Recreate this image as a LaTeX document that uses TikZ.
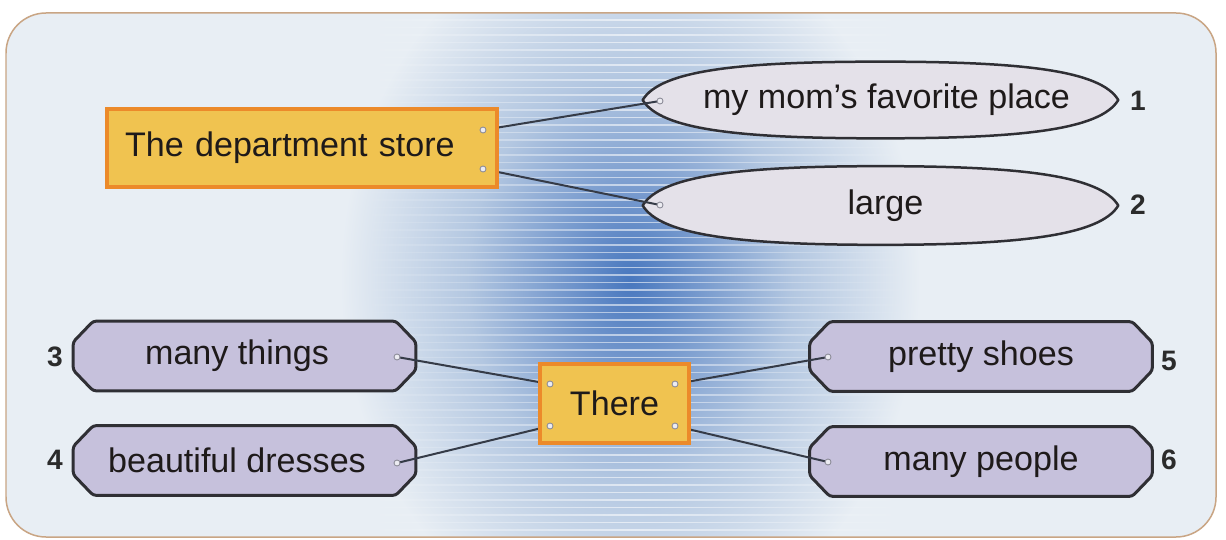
\documentclass[tikz,border=0pt]{standalone}
\usepackage{fontspec}
\setmainfont{Liberation Sans}
\usetikzlibrary{calc,fadings}
\definecolor{bgc}{HTML}{E8EEF4}
\definecolor{glowA}{HTML}{4877BE}
\definecolor{glowB}{HTML}{6F94CB}
\definecolor{glowC}{HTML}{B3C7E1}
\definecolor{framec}{HTML}{C9A584}
\definecolor{yellowF}{HTML}{F0C350}
\definecolor{orangeB}{HTML}{EC8A2A}
\definecolor{lensF}{HTML}{E4E1E9}
\definecolor{octF}{HTML}{C6C1DC}
\definecolor{darkL}{HTML}{2F2F34}
\definecolor{connc}{HTML}{353B47}
\definecolor{txt}{HTML}{1E1A1A}
\definecolor{numc}{HTML}{2B2B2B}
\definecolor{dotF}{HTML}{ECECF2}
\definecolor{dotD}{HTML}{8C8C98}
\pgfdeclarelayer{back}
\pgfdeclarelayer{shapes}
\pgfdeclarelayer{lines}
\pgfsetlayers{back,shapes,lines,main}
\pgfdeclareradialshading{glow}{\pgfpoint{0bp}{0bp}}{color(0bp)=(glowA); color(5bp)=(glowB); color(14bp)=(glowC); color(25bp)=(bgc); color(50bp)=(bgc)}
\tikzfading[name=lrfade, left color=transparent!100, right color=transparent!100, middle color=transparent!0]
\newcommand\lensshape[1]{%
  \path[lensline] (#1.west)
    .. controls ($(#1.west)+(18,-30)$) and ($(#1.north)+(-140,0)$) .. (#1.north)
    .. controls ($(#1.north)+(140,0)$) and ($(#1.east)+(-18,-30)$) .. (#1.east)
    .. controls ($(#1.east)+(-18,30)$) and ($(#1.south)+(140,0)$) .. (#1.south)
    .. controls ($(#1.south)+(-140,0)$) and ($(#1.west)+(18,30)$) .. (#1.west) -- cycle;}
\newcommand\octshape[1]{%
  \path[octline] ($(#1.north west)+(20,0)$) -- ($(#1.north east)+(-20,0)$)
    -- ($(#1.east)+(0,-14)$) -- ($(#1.east)+(0,14)$)
    -- ($(#1.south east)+(-20,0)$) -- ($(#1.south west)+(20,0)$)
    -- ($(#1.west)+(0,14)$) -- ($(#1.west)+(0,-14)$) -- cycle;}
\begin{document}
\begin{tikzpicture}[x=0.02cm,y=-0.02cm,
  mainfont/.style={font=\fontsize{19.4pt}{23pt}\selectfont, text=txt},
  yelbox/.style={mainfont, draw=orangeB, line width=0.08cm, fill=yellowF, inner sep=0pt},
  plainbox/.style={mainfont, draw=none, inner sep=0pt},
  lensline/.style={draw=darkL, line width=0.05cm, fill=lensF, line join=round},
  octline/.style={draw=darkL, line width=0.06cm, fill=octF, rounded corners=0.06cm},
  num/.style={font=\bfseries\fontsize{16pt}{18pt}\selectfont, text=numc, inner sep=0pt},
  dot/.style={circle, minimum size=0.12cm, inner sep=0pt, fill=dotF, draw=dotD, line width=0.5pt},
  conn/.style={draw=connc, line width=0.04cm}]
\useasboundingbox (0,0) rectangle (1226,540);
\begin{pgfonlayer}{back}
\fill[white] (0,0) rectangle (1226,540);
\begin{scope}
\clip[rounded corners=0.8cm] (6,13) rectangle (1216,537);
\fill[bgc] (0,0) rectangle (1226,540);
\shade[shading=glow] (340,-80) rectangle (920,640);
\draw[white, line width=0.03cm, opacity=0.6, path fading=lrfade]
  \foreach \yy in {20,27.5,...,535}{(360,\yy) -- (910,\yy)};
\end{scope}
\draw[framec, line width=0.03cm, rounded corners=0.8cm] (6,13) rectangle (1216,537);
\end{pgfonlayer}

% main nodes
\node[yelbox, minimum width=7.8cm, minimum height=1.56cm, text width=7.08cm, align=left] (ds) at (302,148) {The department store};
\node[yelbox, minimum width=2.98cm, minimum height=1.58cm] (th) at (614.5,403.5) {There};
\node[plainbox, minimum width=9.5cm, minimum height=1.52cm] (l1) at (880.5,100) {\hspace*{0.24cm}my mom’s favorite place};
\node[plainbox, minimum width=9.5cm, minimum height=1.56cm] (l2) at (880.5,205.5) {\hspace*{0.2cm}large};
\node[plainbox, minimum width=6.84cm, minimum height=1.38cm] (mt) at (244.5,356) {\hspace*{-0.3cm}many things};
\node[plainbox, minimum width=6.84cm, minimum height=1.38cm] (bd) at (244.5,460.5) {\hspace*{-0.3cm}beautiful dresses};
\node[plainbox, minimum width=6.84cm, minimum height=1.38cm] (ps) at (981,356.5) {pretty shoes};
\node[plainbox, minimum width=6.84cm, minimum height=1.38cm] (mp) at (981,461.5) {many people};

\begin{pgfonlayer}{shapes}
\lensshape{l1}
\lensshape{l2}
\octshape{mt}
\octshape{bd}
\octshape{ps}
\octshape{mp}
\end{pgfonlayer}

% numbers
\node[num] (n1) at (1138,101) {1};
\node[num] (n2) at (1138,205) {2};
\node[num] (n3) at (55,357) {3};
\node[num] (n4) at (55,460) {4};
\node[num] (n5) at (1169,361) {5};
\node[num] (n6) at (1169,460) {6};

% connection points
\node[dot] (d1) at (483,130) {};
\node[dot] (d2) at (483,169) {};
\node[dot] (e1) at (660,101) {};
\node[dot] (e2) at (660,205) {};
\node[dot] (t1) at (550,384) {};
\node[dot] (t2) at (550,426) {};
\node[dot] (t3) at (675,384) {};
\node[dot] (t4) at (675,426) {};
\node[dot] (m1) at (397,357) {};
\node[dot] (m2) at (397,463) {};
\node[dot] (p1) at (828,357) {};
\node[dot] (p2) at (828,462) {};

\begin{pgfonlayer}{lines}
\draw[conn] (d1.center) -- (e1.center);
\draw[conn] (d2.center) -- (e2.center);
\draw[conn] (m1.center) -- (t1.center);
\draw[conn] (m2.center) -- (t2.center);
\draw[conn] (t3.center) -- (p1.center);
\draw[conn] (t4.center) -- (p2.center);
\end{pgfonlayer}
\end{tikzpicture}
\end{document}
